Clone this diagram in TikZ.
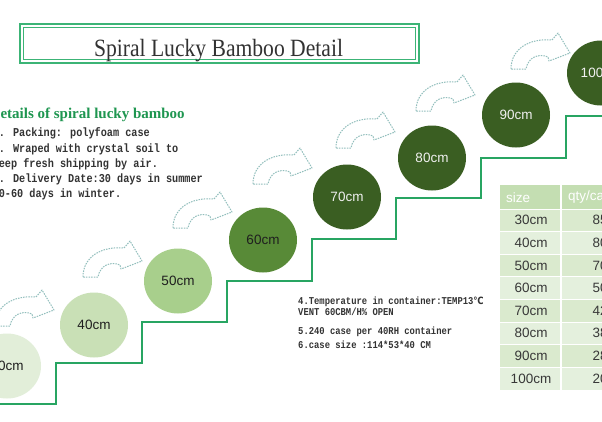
\documentclass[tikz,border=0pt]{standalone}
\usepackage{fontspec}
\usepackage{graphicx}
\usetikzlibrary{shapes.geometric}
\newfontfamily\monof{Liberation Mono}
\newfontfamily\sansf{Liberation Sans}
\newfontfamily\seriff{Liberation Serif}
\newfontfamily\dvsans{DejaVu Sans}
\newcommand{\tallmono}[1]{\scalebox{1}[1.18]{#1}}
\definecolor{stairgreen}{RGB}{40,165,98}
\definecolor{boxgreen}{RGB}{60,180,118}
\definecolor{headgreen}{RGB}{30,150,80}
\definecolor{arrowgray}{RGB}{145,190,188}
\definecolor{cA}{RGB}{226,238,217}
\definecolor{cB}{RGB}{201,224,182}
\definecolor{cC}{RGB}{168,207,140}
\definecolor{cD}{RGB}{88,138,55}
\definecolor{cE}{RGB}{58,94,34}
\definecolor{thead}{RGB}{196,222,178}
\definecolor{rowA}{RGB}{218,234,206}
\definecolor{rowB}{RGB}{228,240,221}
\definecolor{titlegray}{RGB}{50,50,50}
\begin{document}
\begin{tikzpicture}[x=1pt,y=-1pt,
  disc/.style={ellipse, inner sep=0pt, minimum width=68pt, minimum height=65pt, font=\sansf\fontsize{13.5}{14}\selectfont},
  arrowline/.style={draw=arrowgray, line width=1pt, dash pattern=on 1.5pt off 1.1pt, line join=round},
  curvyarrow/.pic={\path[arrowline] (0,36) .. controls (0,16) and (18,5) .. (41,7) -- (47,0) -- (59,20) -- (38,28) -- (37,24) .. controls (28,20) and (17,24) .. (15,36) -- cycle;},
  monoline/.style={anchor=west, inner sep=0pt, text height=7pt, text depth=2pt, font=\monof\bfseries\fontsize{10.2}{12}\selectfont, text=black!80},
  monosmall/.style={anchor=west, inner sep=0pt, text height=6pt, text depth=2pt, font=\monof\bfseries\fontsize{8.85}{10}\selectfont, text=black!80},
  cell/.style={inner sep=0pt, font=\sansf\fontsize{13.5}{14}\selectfont, text=black!78},
  headcell/.style={anchor=west, inner sep=0pt, font=\sansf\fontsize{13.5}{14}\selectfont, text=white},
  stair/.style={draw=stairgreen, line width=2.4pt, line join=miter}
]
\useasboundingbox (0,0) rectangle (602,421);
\clip (0,0) rectangle (602,421);
\fill[white] (0,0) rectangle (602,421);

% title
\node[draw=boxgreen, line width=1.7pt, minimum width=399pt, minimum height=39.5pt, inner sep=0pt] (titlebox) at (219.5,43.5) {};
\node[draw=boxgreen, line width=1.3pt, minimum width=392pt, minimum height=32.5pt, inner sep=0pt] (titleinner) at (219.5,43.5) {};
\node[anchor=base, inner sep=0pt, text=titlegray, font=\seriff\fontsize{21.6}{24}\selectfont] (title) at (218.5,56) {\scalebox{1}[1.15]{Spiral Lucky Bamboo Detail}};

% details text
\node[anchor=base west, inner sep=0pt, text=headgreen, font=\seriff\bfseries\fontsize{15}{18}\selectfont] (dhead) at (-10.5,118) {Details of spiral lucky bamboo};
\node[monoline] (l1) at (-7.5,134) {\tallmono{1. Packing: polyfoam case}};
\node[monoline] (l2) at (-7.5,150) {\tallmono{2. Wraped with crystal soil to}};
\node[monoline] (l3) at (-7.5,165) {\tallmono{keep fresh shipping by air.}};
\node[monoline] (l4) at (-7.5,180) {\tallmono{3. Delivery Date:30 days in summer}};
\node[monoline] (l5) at (-7.5,195) {\tallmono{40-60 days in winter.}};

\node[monosmall] (m1) at (298,302) {\tallmono{4.Temperature in container:TEMP13{\dvsans\fontsize{8.5}{10}\selectfont ℃}}};
\node[monosmall] (m2) at (298,313.5) {\tallmono{VENT 60CBM/H\% OPEN}};
\node[monosmall] (m3) at (298,332) {\tallmono{5.240 case per 40RH container}};
\node[monosmall] (m4) at (298,346) {\tallmono{6.case size :114*53*40 CM}};

% stairs
\draw[stair] (-2,404) -- (56,404) -- (56,363) -- (142,363) -- (142,322) -- (227,322) -- (227,281) -- (312,281) -- (312,239) -- (396,239) -- (396,198) -- (481,198) -- (481,158) -- (566,158) -- (566,116) -- (606,116);

% arrows
\pic (a1) at (-5,290) {curvyarrow};
\pic (a2) at (83,241) {curvyarrow};
\pic (a3) at (173,192) {curvyarrow};
\pic (a4) at (253,148) {curvyarrow};
\pic (a5) at (336,112) {curvyarrow};
\pic (a6) at (416,75) {curvyarrow};
\pic (a7) at (511,33) {curvyarrow};

% discs
\node[disc, fill=cA, text=black!88] (c30) at (7,366) {30cm};
\node[disc, fill=cB, text=black!88] (c40) at (94,325) {40cm};
\node[disc, fill=cC, text=black!88] (c50) at (178,281) {50cm};
\node[disc, fill=cD, text=black!88] (c60) at (263,240) {60cm};
\node[disc, fill=cE, text=white!94!black] (c70) at (347,197) {70cm};
\node[disc, fill=cE, text=white!94!black] (c80) at (432,158) {80cm};
\node[disc, fill=cE, text=white!94!black] (c90) at (516,115) {90cm};
\node[disc, fill=cE, text=white!94!black] (c100) at (601,73) {100cm};

% table
\fill[thead] (500,185) rectangle (610,209);
\node[headcell] (hsize) at (506,197.5) {size};
\node[headcell] (hqty) at (568,197.5) {qty/case};
\foreach \s/\q/\c [count=\i from 0] in {30cm/85/rowA,40cm/80/rowB,50cm/70/rowA,60cm/50/rowB,70cm/42/rowA,80cm/38/rowB,90cm/28/rowA,100cm/20/rowB} {
  \fill[\c] (500,{209+\i*22.6}) rectangle (610,{209+(\i+1)*22.6});
  \node[cell] (s\i) at (531,{220.3+\i*22.6}) {\s};
  \node[cell] (q\i) at (600,{220.3+\i*22.6}) {\q};
}
\foreach \i in {0,...,7} {
  \draw[white, line width=1pt] (500,{209+\i*22.6}) -- (610,{209+\i*22.6});
}
\draw[white, line width=1.5pt] (561,185) -- (561,389.8);
\end{tikzpicture}
\end{document}
